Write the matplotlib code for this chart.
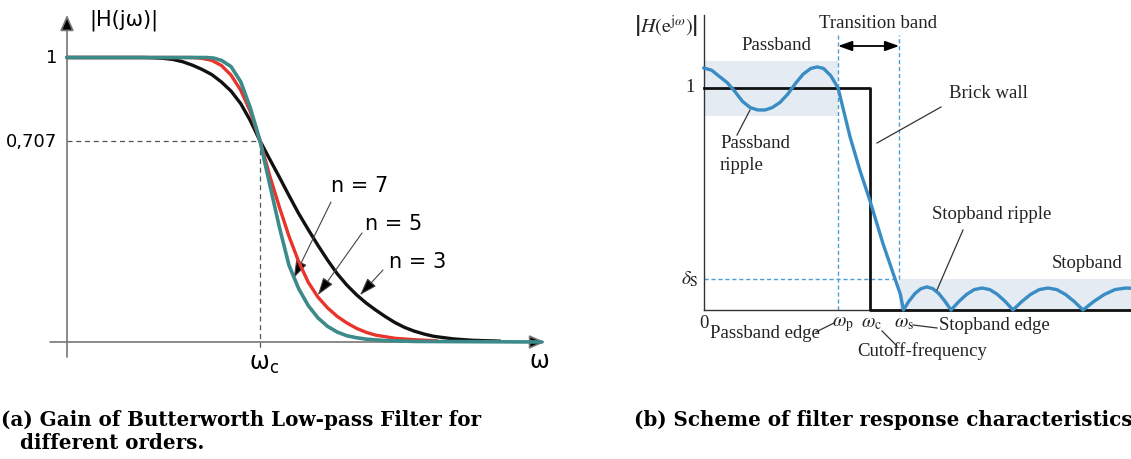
import matplotlib
matplotlib.use("Agg")
import matplotlib.pyplot as plt
from matplotlib.patches import Rectangle
from matplotlib.lines import Line2D

plt.rcParams['mathtext.fontset'] = 'stix'

# ---------------- panel (a): Butterworth gain, frequency normalised to w_c
w_n3 = [0, 0.40, 0.45, 0.50, 0.55, 0.60, 0.65, 0.70, 0.75, 0.80, 0.85, 0.90, 0.95, 1.0,
        1.05, 1.10, 1.15, 1.20, 1.25, 1.30, 1.35, 1.40, 1.45, 1.50, 1.55, 1.60, 1.65,
        1.70, 1.75, 1.80, 1.85, 1.90, 2.0, 2.1, 2.244]
g_n3 = [1, 1.0, 0.999, 0.997, 0.993, 0.985, 0.973, 0.958, 0.940, 0.914, 0.882, 0.838,
        0.778, 0.707, 0.643, 0.580, 0.515, 0.452, 0.395, 0.340, 0.288, 0.240, 0.200,
        0.166, 0.137, 0.112, 0.089, 0.068, 0.051, 0.038, 0.028, 0.020, 0.011, 0.006,
        0.003]
w_n5 = [0, 0.65, 0.70, 0.75, 0.80, 0.85, 0.90, 0.95, 1.0, 1.05, 1.10, 1.15, 1.20, 1.25,
        1.30, 1.35, 1.40, 1.45, 1.50, 1.55, 1.60, 1.70, 1.80, 1.917]
g_n5 = [1, 1.0, 0.997, 0.990, 0.972, 0.938, 0.885, 0.810, 0.707, 0.585, 0.475, 0.372,
        0.283, 0.210, 0.158, 0.120, 0.090, 0.067, 0.048, 0.034, 0.024, 0.013, 0.008,
        0.004]
w_n7 = [0, 0.72, 0.76, 0.80, 0.85, 0.90, 0.95, 1.0, 1.05, 1.10, 1.15, 1.20, 1.25, 1.30,
        1.35, 1.40, 1.45, 1.50, 1.55, 1.65, 1.80, 2.46]
g_n7 = [1, 1.0, 0.998, 0.990, 0.968, 0.915, 0.823, 0.707, 0.555, 0.405, 0.270, 0.188,
        0.128, 0.085, 0.055, 0.035, 0.022, 0.015, 0.010, 0.005, 0.002, 0.0]
order_labels = ['n = 7', 'n = 5', 'n = 3']
cutoff_gain = 0.707

# ---------------- panel (b): filter response scheme (frequency as fraction of axis)
w_resp = [0.000, 0.018, 0.036, 0.054, 0.072, 0.090, 0.108, 0.126, 0.143, 0.160, 0.178,
          0.196, 0.214, 0.232, 0.250, 0.265, 0.280, 0.297, 0.314,
          0.328, 0.342, 0.365, 0.389, 0.419, 0.443, 0.460, 0.467,
          0.480, 0.494, 0.508, 0.522, 0.536, 0.550, 0.564, 0.5785,
          0.5967, 0.6148, 0.6330, 0.6511, 0.6693, 0.6874, 0.7056, 0.7237,
          0.7442, 0.7647, 0.7852, 0.8057, 0.8261, 0.8466, 0.8671, 0.8876,
          0.9126, 0.9376, 0.9626, 0.9876, 1.0]
h_resp = [1.090, 1.080, 1.052, 1.025, 0.985, 0.940, 0.912, 0.901, 0.901, 0.912, 0.935,
          0.972, 1.020, 1.062, 1.088, 1.095, 1.088, 1.055, 1.000,
          0.890, 0.780, 0.630, 0.490, 0.300, 0.165, 0.070, 0.0,
          0.040, 0.074, 0.096, 0.104, 0.096, 0.074, 0.040, 0.0,
          0.038, 0.070, 0.092, 0.099, 0.092, 0.070, 0.038, 0.0,
          0.038, 0.070, 0.092, 0.099, 0.092, 0.070, 0.038, 0.0,
          0.038, 0.070, 0.092, 0.099, 0.098]
w_p, w_c, w_s = 0.314, 0.389, 0.457
delta_s = 0.14
pass_lo, pass_hi = 0.874, 1.122

W, H = 1131, 459
fig = plt.figure(figsize=(W / 100, H / 100), dpi=100)


def P(x, y):
    return (x / W, 1 - y / H)


def seg(x1, y1, x2, y2, **kw):
    fig.add_artist(Line2D([x1 / W, x2 / W], [1 - y1 / H, 1 - y2 / H],
                          transform=fig.transFigure, **kw))


# ======================= left panel =======================
axL = fig.add_axes([0, 79 / H, 560 / W, 380 / H])
axL.set_xlim(-67 / 193, (560 - 67) / 193)
axL.set_ylim((342 - 380) / 284.5, 342 / 284.5)
axL.axis('off')

axis_arrow = dict(arrowstyle='-|>,head_length=0.8,head_width=0.35', color='#777777',
                  lw=1.2, shrinkA=0, shrinkB=0, mutation_scale=12)
axL.annotate('', xy=(0, (342 - 15) / 284.5), xytext=(0, (342 - 357) / 284.5),
             arrowprops=axis_arrow)
axL.annotate('', xy=((545 - 67) / 193, 0), xytext=((50 - 67) / 193, 0),
             arrowprops=axis_arrow)
for a in axL.texts:
    a.arrow_patch.set_facecolor('black')
    a.arrow_patch.set_edgecolor('#777777')

axL.plot([0, 1], [cutoff_gain, cutoff_gain], ls=(0, (4, 3)), color='#555555', lw=0.9)
axL.plot([1, 1], [cutoff_gain, -6 / 284.5], ls=(0, (4, 3)), color='#555555', lw=0.9)

axL.plot(w_n3, g_n3, color='#111111', lw=2.4, solid_capstyle='round',
         solid_joinstyle='round', zorder=3)
axL.plot(w_n5, g_n5, color='#e8342b', lw=2.4, solid_capstyle='round',
         solid_joinstyle='round', zorder=4)
axL.plot(w_n7, g_n7, color='#3d8a8a', lw=2.6, solid_capstyle='round',
         solid_joinstyle='round', zorder=5)

lab_arrow = dict(arrowstyle='-|>,head_length=0.9,head_width=0.3', color='#444444',
                 lw=0.8, shrinkA=0, shrinkB=0, mutation_scale=12, fc='black')
label_tips = [(1.175, 0.225), (1.300, 0.165), (1.518, 0.165)]
label_tails = [(331, 202), (362, 233), (383, 270)]
label_pos = [(360, 186), (394, 224), (418, 262)]
for lab, tip, tail, pos in zip(order_labels, label_tips, label_tails, label_pos):
    axL.annotate('', xy=tip, xycoords='data', xytext=P(*tail),
                 textcoords='figure fraction', arrowprops=lab_arrow)
    fig.text(*P(*pos), lab, ha='center', va='center', fontsize=15,
             family='DejaVu Sans')

fig.text(*P(124, 20), '|H(jω)|', ha='center', va='center', fontsize=15,
         family='DejaVu Sans')
fig.text(*P(57, 58), '1', ha='right', va='center', fontsize=13, family='DejaVu Sans')
fig.text(*P(57, 142), '0,707', ha='right', va='center', fontsize=13,
         family='DejaVu Sans')
fig.text(*P(264, 364), r'$\mathregular{\omega_c}$', ha='center', va='center',
         fontsize=17, family='DejaVu Sans')
fig.text(*P(539, 361), 'ω', ha='center', va='center', fontsize=17,
         family='DejaVu Sans')

# ======================= right panel =======================
axR = fig.add_axes([560 / W, 79 / H, 571 / W, 380 / H])
axR.set_xlim(-144 / 427, 1.0)
axR.set_ylim(-70 / 222, 310 / 222)
axR.axis('off')

shade = '#e4ebf3'
axR.add_patch(Rectangle((0, pass_lo), w_p, pass_hi - pass_lo, fc=shade, ec='none', zorder=0))
axR.add_patch(Rectangle((w_s, 0), 1 - w_s, delta_s, fc=shade, ec='none', zorder=0))

dash_c = '#4f9fd3'
top_dash = (310 - 35) / 222
axR.plot([w_p, w_p], [0, top_dash], ls=(0, (3, 2)), color=dash_c, lw=1.0, zorder=1)
axR.plot([w_s, w_s], [delta_s, top_dash], ls=(0, (3, 2)), color=dash_c, lw=1.0, zorder=1)
axR.plot([0, w_s], [delta_s, delta_s], ls=(0, (3, 2)), color=dash_c, lw=1.0, zorder=1)

axR.plot([0, 0], [0, (310 - 15) / 222], color='#333333', lw=1.0, zorder=2)
axR.plot([0, 1], [0, 0], color='#333333', lw=1.0, zorder=2)
axR.plot([0, w_c, w_c, 1], [1, 1, 0, 0], color='#111111', lw=2.0, zorder=3)
axR.plot(w_resp, h_resp, color='#3a8cc5', lw=2.4, zorder=4, solid_joinstyle='round')

axR.annotate('', xy=(w_s, (310 - 46) / 222), xytext=(w_p, (310 - 46) / 222),
             arrowprops=dict(arrowstyle='<|-|>,head_length=0.7,head_width=0.25',
                             color='black', lw=1.3, shrinkA=0, shrinkB=0,
                             mutation_scale=12))

serif = dict(family='Liberation Serif', fontsize=13.5, color='#222222')
fig.text(*P(666, 26), r'$\left|H\left(\mathrm{e}^{\mathrm{j}\omega}\right)\right|$',
         ha='center', va='center', fontsize=14.5, color='#222222')
fig.text(*P(878, 24), 'Transition band', ha='center', va='center', **serif)
fig.text(*P(776, 46), 'Passband', ha='center', va='center', **serif)
fig.text(*P(690, 88), '1', ha='center', va='center', **serif)
fig.text(*P(699, 279), r'$\delta_{\mathrm{S}}$', ha='right', va='center',
         fontsize=14, color='#222222')
fig.text(*P(704, 323), '0', ha='center', va='center', **serif)
fig.text(*P(710, 334), 'Passband edge', ha='left', va='center', **serif)
fig.text(*P(843, 325), r'$\omega_{\mathrm{p}}$', ha='center', va='center',
         fontsize=14, color='#222222')
fig.text(*P(872, 323), r'$\omega_{\mathrm{c}}$', ha='center', va='center',
         fontsize=14, color='#222222')
fig.text(*P(904, 323), r'$\omega_{\mathrm{s}}$', ha='center', va='center',
         fontsize=14, color='#222222')
fig.text(*P(939, 325), 'Stopband edge', ha='left', va='center', **serif)
fig.text(*P(922, 351), 'Cutoff-frequency', ha='center', va='center', **serif)
fig.text(*P(988, 94), 'Brick wall', ha='center', va='center', **serif)
fig.text(*P(720, 144), 'Passband', ha='left', va='center', **serif)
fig.text(*P(720, 166), 'ripple', ha='left', va='center', **serif)
fig.text(*P(992, 214), 'Stopband ripple', ha='center', va='center', **serif)
fig.text(*P(1087, 263), 'Stopband', ha='center', va='center', **serif)

lead = dict(color='#333333', lw=0.9)
seg(816, 332, 834, 323, **lead)
seg(882, 331, 897, 346, **lead)
seg(913, 325, 937, 328, **lead)
seg(941, 107, 877, 143, **lead)
seg(750, 110, 737, 135, **lead)
seg(963, 230, 937, 290, **lead)

# ======================= captions =======================
cap = dict(family='DejaVu Serif', weight='bold', fontsize=14.3, color='black',
           va='baseline')
fig.text(*P(1, 426), '(a) Gain of Butterworth Low-pass Filter for', ha='left', **cap)
fig.text(*P(20, 449), 'different orders.', ha='left', **cap)
fig.text(*P(634, 426), '(b) Scheme of filter response characteristics', ha='left', **cap)

fig.savefig('out.png', dpi=100, facecolor='white')
